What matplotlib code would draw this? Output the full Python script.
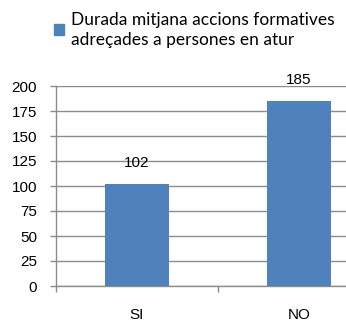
import matplotlib
matplotlib.use("Agg")
import matplotlib.pyplot as plt
from matplotlib.patches import Patch

categories = ["SI", "NO"]
durada = [102, 185]
y_ticks = [0, 25, 50, 75, 100, 125, 150, 175, 200]
series_label = "Durada mitjana accions formatives\nadreçades a persones en atur"

BLUE = "#4F81BD"
GRID = "#8C8C8C"

fig = plt.figure(figsize=(3.46, 3.22), dpi=100)
# plot area runs past the right edge of the figure (second slot is cut off)
ax = fig.add_axes([56 / 346, 36 / 322, 324 / 346, 200 / 322])

x = list(range(len(categories)))
ax.bar(x, durada, width=0.4, color=BLUE, zorder=3)

for xi, v in zip(x, durada):
    ax.annotate(str(v), (xi, v), xytext=(0, 15), textcoords="offset points",
                ha="center", va="center", fontsize=11, family="Liberation Sans")

ax.set_xlim(-0.5, 1.5)
ax.set_ylim(0, 200)
ax.set_yticks(y_ticks)
ax.set_yticklabels([str(t) for t in y_ticks], family="Liberation Sans", fontsize=11)
ax.yaxis.grid(True, color=GRID, lw=1, zorder=0)
ax.tick_params(axis="y", length=4.5, color=GRID, width=1, pad=9)

# slot boundaries get tick marks, category names sit in the middle
ax.set_xticks([-0.5, 0.5, 1.5])
ax.set_xticklabels([])
ax.set_xticks(x, minor=True)
ax.set_xticklabels(categories, minor=True, family="Liberation Sans", fontsize=11)
ax.tick_params(axis="x", which="major", length=4.5, color=GRID, width=1)
ax.tick_params(axis="x", which="minor", length=0, pad=16)

for side in ("top", "right"):
    ax.spines[side].set_visible(False)
for side in ("left", "bottom"):
    ax.spines[side].set_color(GRID)
    ax.spines[side].set_linewidth(1)

leg = fig.legend(handles=[Patch(color=BLUE)], labels=[series_label],
                 loc="upper left", bbox_to_anchor=(38 / 346, 1 + 4 / 322),
                 frameon=False, handlelength=0.6, handleheight=0.6,
                 handletextpad=0.4,
                 prop={"family": "Lato", "size": 12.5})
for t in leg.get_texts():
    t.set_linespacing(1.3)

fig.savefig("out.png", dpi=100)
